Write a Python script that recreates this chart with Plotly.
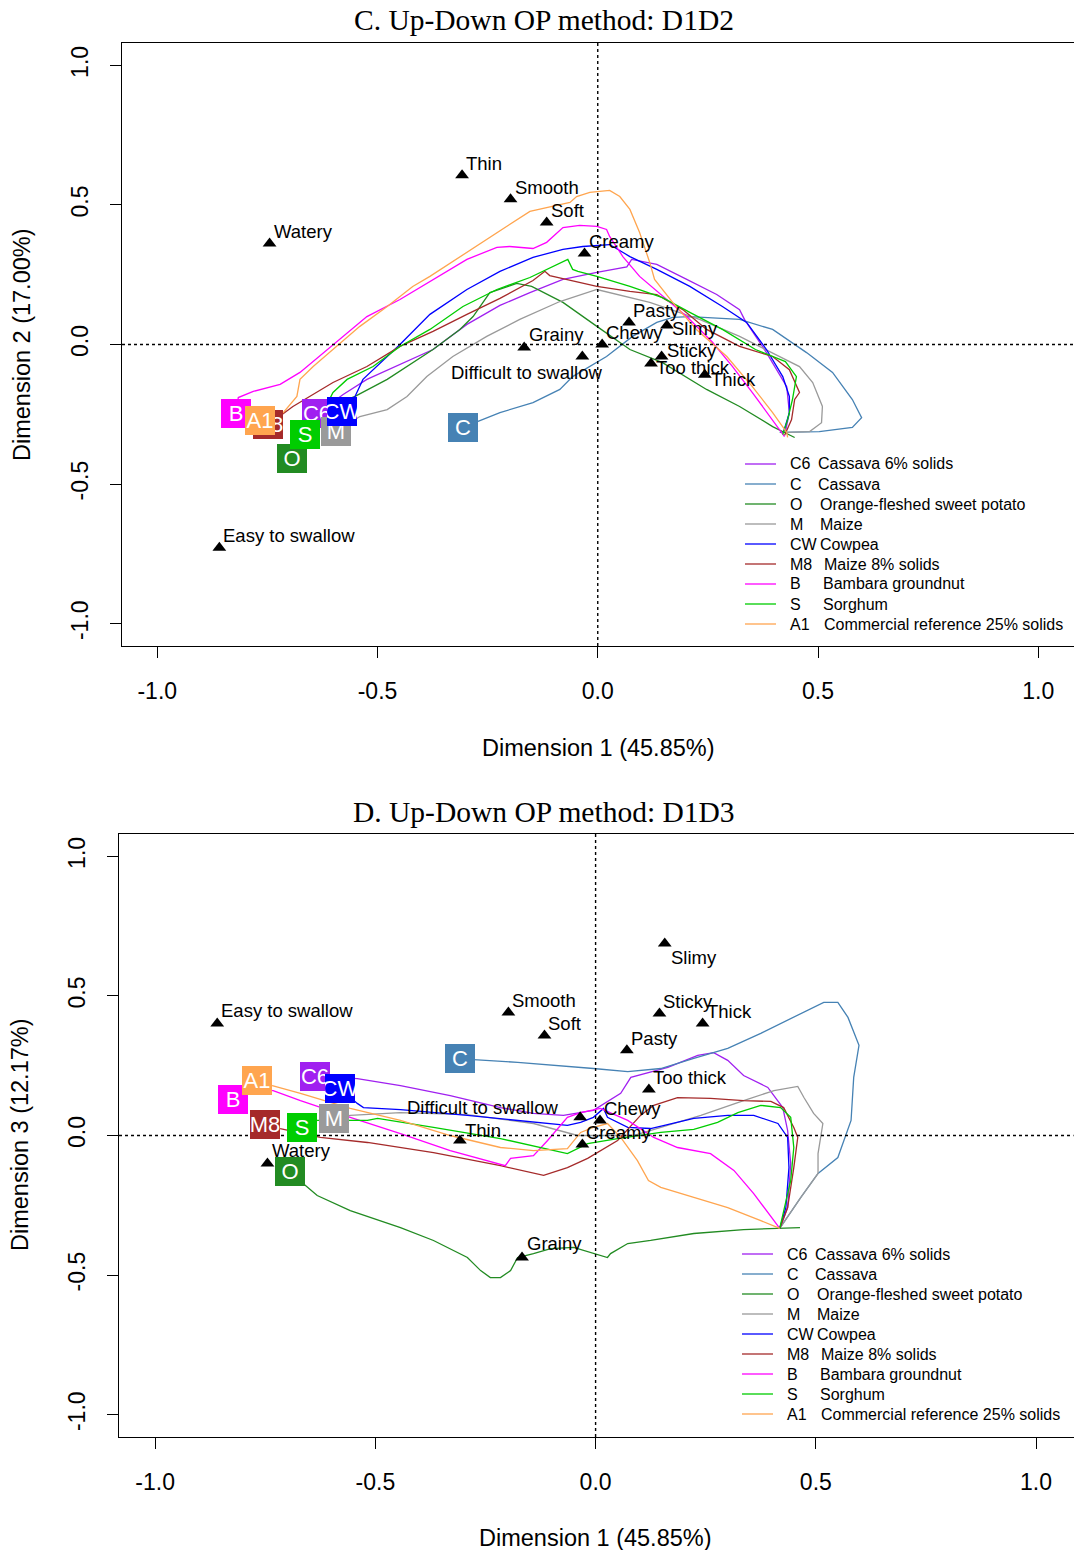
import plotly.graph_objects as go

# ---------------------------------------------------------------------------
# Sensory attributes (supplementary points) on dimensions 1, 2 and 3
# ---------------------------------------------------------------------------
attributes = ["Thin", "Smooth", "Soft", "Watery", "Creamy", "Pasty", "Slimy", "Grainy",
              "Chewy", "Difficult to swallow", "Sticky", "Too thick", "Thick", "Easy to swallow"]
attr_dim1 = [-0.308, -0.198, -0.116, -0.745, -0.030, 0.071, 0.157, -0.167,
             0.010, -0.035, 0.145, 0.121, 0.243, -0.859]
attr_dim2 = [0.606, 0.520, 0.437, 0.362, 0.326, 0.079, 0.068, -0.011,
             0.000, -0.043, -0.043, -0.068, -0.108, -0.728]
attr_dim3 = [-0.018, 0.441, 0.358, -0.100, -0.032, 0.305, 0.688, -0.437,
             0.054, 0.065, 0.437, 0.165, 0.401, 0.401]

# ---------------------------------------------------------------------------
# Products
# ---------------------------------------------------------------------------
product_codes = ["C6", "C", "O", "M", "CW", "M8", "B", "S", "A1"]
product_names = ["Cassava 6% solids", "Cassava", "Orange-fleshed sweet potato", "Maize",
                 "Cowpea", "Maize 8% solids", "Bambara groundnut", "Sorghum",
                 "Commercial reference 25% solids"]
product_colors = ["#A020F0", "#4682B4", "#228B22", "#9A9A9A", "#0000FF",
                  "#A52A2A", "#FF00FF", "#00CD00", "#FFA54F"]

# ---------------------------------------------------------------------------
# Up-Down trajectories, (dim1, dim2)
# ---------------------------------------------------------------------------
traj12_C6 = [(-0.637, -0.247), (-0.578, -0.179), (-0.524, -0.125), (-0.449, -0.072), (-0.374, -0.018),
             (-0.297, 0.072), (-0.222, 0.140), (-0.154, 0.186), (-0.079, 0.233), (-0.002, 0.258),
             (0.066, 0.278), (0.077, 0.305), (0.134, 0.287), (0.202, 0.233), (0.270, 0.179),
             (0.322, 0.125), (0.333, 0.090), (0.383, -0.029), (0.429, -0.151), (0.435, -0.244),
             (0.426, -0.312)]
traj12_C = [(-0.306, -0.297), (-0.274, -0.276), (-0.222, -0.244), (-0.147, -0.208), (-0.086, -0.161),
            (-0.057, -0.115), (0.020, -0.043), (0.079, 0.029), (0.134, 0.079), (0.170, 0.097),
            (0.209, 0.100), (0.322, 0.090), (0.397, 0.054), (0.474, -0.029), (0.533, -0.100),
            (0.578, -0.197), (0.599, -0.262), (0.578, -0.297), (0.503, -0.312), (0.413, -0.315)]
traj12_O = [(-0.694, -0.409), (-0.642, -0.305), (-0.596, -0.215), (-0.551, -0.186), (-0.478, -0.125),
            (-0.374, -0.018), (-0.313, 0.054), (-0.283, 0.100), (-0.245, 0.186), (-0.200, 0.210),
            (-0.184, 0.219), (-0.150, 0.208), (-0.079, 0.151), (-0.002, 0.065), (0.073, -0.018),
            (0.147, -0.065), (0.247, -0.161), (0.322, -0.222), (0.397, -0.294), (0.447, -0.333)]
traj12_M = [(-0.594, -0.312), (-0.540, -0.258), (-0.478, -0.233), (-0.433, -0.186), (-0.388, -0.115),
            (-0.329, -0.043), (-0.252, 0.029), (-0.177, 0.090), (-0.086, 0.154), (-0.002, 0.197),
            (0.118, 0.151), (0.231, 0.090), (0.322, 0.029), (0.406, -0.036), (0.458, -0.079),
            (0.488, -0.136), (0.510, -0.222), (0.508, -0.280), (0.481, -0.312), (0.429, -0.315)]
traj12_CW = [(-0.580, -0.240), (-0.551, -0.186), (-0.533, -0.125), (-0.510, -0.090), (-0.449, 0.000),
             (-0.381, 0.108), (-0.297, 0.197), (-0.222, 0.262), (-0.147, 0.312), (-0.079, 0.341),
             (-0.034, 0.351), (0.027, 0.358), (0.073, 0.315), (0.134, 0.269), (0.209, 0.208),
             (0.283, 0.136), (0.338, 0.079), (0.383, -0.018), (0.420, -0.115), (0.435, -0.186),
             (0.435, -0.244), (0.422, -0.312)]
traj12_M8 = [(-0.748, -0.287), (-0.692, -0.222), (-0.601, -0.136), (-0.524, -0.079), (-0.449, -0.007),
             (-0.374, 0.047), (-0.297, 0.108), (-0.222, 0.165), (-0.147, 0.229), (-0.120, 0.262),
             (-0.109, 0.247), (-0.002, 0.208), (0.073, 0.190), (0.134, 0.179), (0.193, 0.125),
             (0.247, 0.054), (0.322, -0.007), (0.397, -0.043), (0.435, -0.090), (0.458, -0.172),
             (0.447, -0.197), (0.440, -0.269), (0.424, -0.326)]
traj12_B = [(-0.821, -0.247), (-0.816, -0.190), (-0.782, -0.168), (-0.721, -0.143), (-0.676, -0.100),
            (-0.601, 0.000), (-0.524, 0.100), (-0.449, 0.161), (-0.381, 0.226), (-0.297, 0.305),
            (-0.229, 0.348), (-0.200, 0.351), (-0.147, 0.344), (-0.116, 0.366), (-0.079, 0.419),
            (-0.041, 0.427), (-0.002, 0.423), (0.020, 0.412), (0.027, 0.387), (0.043, 0.348),
            (0.057, 0.315), (0.095, 0.244), (0.156, 0.161), (0.202, 0.100), (0.261, 0.007),
            (0.306, -0.079), (0.351, -0.172), (0.397, -0.269), (0.424, -0.330)]
traj12_S = [(-0.664, -0.323), (-0.624, -0.244), (-0.601, -0.172), (-0.569, -0.125), (-0.510, -0.079),
            (-0.449, -0.007), (-0.381, 0.054), (-0.306, 0.136), (-0.229, 0.197), (-0.154, 0.240),
            (-0.068, 0.305), (-0.057, 0.269), (-0.045, 0.262), (-0.002, 0.244), (0.073, 0.208),
            (0.147, 0.168), (0.209, 0.115), (0.283, 0.054), (0.358, -0.018), (0.426, -0.061),
            (0.451, -0.115), (0.442, -0.197), (0.431, -0.269), (0.420, -0.323)]
traj12_A1 = [(-0.766, -0.272), (-0.714, -0.244), (-0.683, -0.186), (-0.676, -0.125), (-0.646, -0.079),
             (-0.601, -0.018), (-0.540, 0.065), (-0.478, 0.136), (-0.420, 0.208), (-0.381, 0.244),
             (-0.297, 0.330), (-0.229, 0.401), (-0.154, 0.477), (-0.063, 0.509), (-0.048, 0.530),
             (-0.018, 0.545), (0.027, 0.552), (0.050, 0.530), (0.073, 0.484), (0.095, 0.401),
             (0.118, 0.294), (0.129, 0.233), (0.170, 0.151), (0.224, 0.054), (0.293, -0.043),
             (0.351, -0.151), (0.397, -0.244), (0.429, -0.315), (0.431, -0.333)]

# ---------------------------------------------------------------------------
# Up-Down trajectories, (dim1, dim3)
# ---------------------------------------------------------------------------
traj13_C6 = [(-0.636, 0.211), (-0.541, 0.204), (-0.443, 0.179), (-0.330, 0.143), (-0.216, 0.100),
             (-0.141, 0.079), (-0.073, 0.072), (-0.005, 0.090), (0.057, 0.151), (0.080, 0.208),
             (0.164, 0.244), (0.232, 0.287), (0.268, 0.297), (0.300, 0.269), (0.336, 0.215),
             (0.391, 0.172), (0.425, 0.100), (0.436, 0.018), (0.443, -0.100), (0.436, -0.258),
             (0.418, -0.333)]
traj13_C = [(-0.307, 0.276), (-0.277, 0.272), (-0.177, 0.262), (-0.080, 0.251), (-0.005, 0.240),
            (0.073, 0.229), (0.148, 0.240), (0.223, 0.276), (0.300, 0.312), (0.375, 0.366),
            (0.450, 0.423), (0.518, 0.477), (0.550, 0.477), (0.573, 0.423), (0.598, 0.323),
            (0.586, 0.208), (0.580, 0.054), (0.550, -0.079), (0.505, -0.136), (0.466, -0.222),
            (0.418, -0.333)]
traj13_O = [(-0.693, -0.129), (-0.664, -0.172), (-0.632, -0.215), (-0.557, -0.269), (-0.443, -0.330),
            (-0.368, -0.376), (-0.291, -0.437), (-0.261, -0.484), (-0.239, -0.509), (-0.216, -0.509),
            (-0.193, -0.484), (-0.177, -0.437), (-0.141, -0.423), (-0.102, -0.405), (-0.050, -0.401),
            (-0.005, -0.423), (0.027, -0.437), (0.034, -0.423), (0.073, -0.387), (0.125, -0.376),
            (0.223, -0.351), (0.336, -0.337), (0.414, -0.333), (0.464, -0.330)]
traj13_M = [(-0.595, 0.061), (-0.557, 0.072), (-0.443, 0.082), (-0.291, 0.075), (-0.141, 0.043),
            (-0.041, 0.000), (0.086, 0.000), (0.239, 0.072), (0.336, 0.125), (0.405, 0.161),
            (0.459, 0.176), (0.473, 0.136), (0.495, 0.079), (0.516, 0.043), (0.505, -0.065),
            (0.505, -0.136), (0.466, -0.222), (0.418, -0.333)]
traj13_CW = [(-0.580, 0.168), (-0.541, 0.115), (-0.527, 0.100), (-0.443, 0.093), (-0.291, 0.072),
             (-0.141, 0.047), (-0.064, 0.036), (-0.034, 0.047), (-0.005, 0.065), (0.018, 0.097),
             (0.027, 0.065), (0.073, 0.029), (0.125, 0.025), (0.223, 0.061), (0.300, 0.072),
             (0.359, 0.072), (0.414, 0.043), (0.436, -0.007), (0.439, -0.115), (0.432, -0.258),
             (0.418, -0.333)]
traj13_M8 = [(-0.750, 0.039), (-0.716, 0.025), (-0.625, -0.007), (-0.518, -0.025), (-0.368, -0.061),
             (-0.216, -0.108), (-0.118, -0.143), (-0.064, -0.115), (-0.018, -0.082), (0.050, -0.018),
             (0.102, 0.072), (0.132, 0.108), (0.186, 0.136), (0.261, 0.133), (0.336, 0.125),
             (0.398, 0.122), (0.427, 0.100), (0.450, 0.029), (0.459, -0.007), (0.450, -0.115),
             (0.436, -0.258), (0.418, -0.333)]
traj13_B = [(-0.823, 0.129), (-0.791, 0.168), (-0.732, 0.161), (-0.670, 0.125), (-0.557, 0.065),
            (-0.443, 0.007), (-0.330, -0.054), (-0.205, -0.108), (-0.193, -0.082), (-0.141, -0.072),
            (-0.109, -0.018), (-0.064, 0.065), (-0.034, 0.082), (0.011, 0.097), (0.073, 0.054),
            (0.132, -0.007), (0.186, -0.043), (0.261, -0.065), (0.314, -0.125), (0.359, -0.208),
            (0.405, -0.305), (0.418, -0.333)]
traj13_S = [(-0.666, 0.029), (-0.632, 0.054), (-0.518, 0.054), (-0.495, 0.061), (-0.368, 0.029),
            (-0.216, -0.011), (-0.064, -0.065), (-0.041, -0.047), (-0.018, -0.029), (0.050, -0.011),
            (0.148, 0.011), (0.223, 0.022), (0.277, 0.047), (0.323, 0.082), (0.375, 0.108),
            (0.420, 0.100), (0.443, 0.065), (0.450, -0.043), (0.443, -0.161), (0.418, -0.333)]
traj13_A1 = [(-0.768, 0.197), (-0.734, 0.179), (-0.670, 0.151), (-0.557, 0.097), (-0.443, 0.054),
             (-0.330, 0.000), (-0.216, -0.043), (-0.141, -0.054), (-0.064, -0.047), (-0.050, -0.018),
             (-0.034, 0.011), (-0.005, 0.029), (0.027, 0.043), (0.057, -0.007), (0.095, -0.090),
             (0.120, -0.161), (0.148, -0.186), (0.223, -0.222), (0.300, -0.258), (0.375, -0.305),
             (0.418, -0.333)]

tick_vals = [-1.0, -0.5, 0.0, 0.5, 1.0]
tick_text = ["-1.0", "-0.5", "0.0", "0.5", "1.0"]

# ---------------------------------------------------------------------------
# Layout helpers (page pixels -> paper fractions)
# ---------------------------------------------------------------------------
W, H = 1074, 1550
SANS = "Liberation Sans, Arial, sans-serif"
SERIF = "Liberation Serif, Times New Roman, serif"


def px_x(p):
    return p / W


def px_y(p):
    return 1 - p / H


panels = [
    dict(xa="x", ya="y", traj=[traj12_C6, traj12_C, traj12_O, traj12_M, traj12_CW,
                               traj12_M8, traj12_B, traj12_S, traj12_A1],
         attr_y=attr_dim2,
         legend_line=(745, 776), legend_code_x=790, legend_top=464),
    dict(xa="x2", ya="y2", traj=[traj13_C6, traj13_C, traj13_O, traj13_M, traj13_CW,
                                 traj13_M8, traj13_B, traj13_S, traj13_A1],
         attr_y=attr_dim3,
         legend_line=(742, 773), legend_code_x=787, legend_top=1254),
]

# where each product name starts, relative to its code, in the legend
legend_name_offset = [28, 28, 30, 30, 30, 34, 33, 33, 34]
LEGEND_ROW = 20

# label placement: (xanchor, x offset px, y offset px)
label_pos_top = {"Slimy": ("left", 5, -3), "Sticky": ("left", 5, 6), "Too thick": ("left", 5, -4),
                 "Thick": ("left", 6, -5), "Grainy": ("left", 5, 13),
                 "Difficult to swallow": ("right", 20, -16)}
label_pos_bottom = {"Slimy": ("left", 6, -14), "Difficult to swallow": ("right", -22, 10),
                    "Watery": ("left", 5, 13), "Grainy": ("left", 5, 14), "Thin": ("left", 5, 10),
                    "Easy to swallow": ("left", 4, 13)}
label_pos = [label_pos_top, label_pos_bottom]

fig = go.Figure()
annotations = []
shapes = []

for pi, panel in enumerate(panels):
    # trajectories
    for code, name, color, pts in zip(product_codes, product_names, product_colors, panel["traj"]):
        fig.add_trace(go.Scatter(
            x=[p[0] for p in pts], y=[p[1] for p in pts], mode="lines",
            line=dict(color=color, width=1.3), name=code + " " + name,
            xaxis=panel["xa"], yaxis=panel["ya"], showlegend=False,
            hoverinfo="skip"))
    # attribute triangles
    fig.add_trace(go.Scatter(
        x=attr_dim1, y=panel["attr_y"], mode="markers",
        marker=dict(symbol="triangle-up", size=12, color="black", line=dict(width=0)),
        xaxis=panel["xa"], yaxis=panel["ya"], showlegend=False, hoverinfo="skip"))

    # product start squares
    for code, color, pts in zip(product_codes, product_colors, panel["traj"]):
        annotations.append(dict(
            x=pts[0][0], y=pts[0][1], xref=panel["xa"], yref=panel["ya"], text=code,
            showarrow=False, bgcolor=color, width=30, height=29, borderpad=0, borderwidth=0,
            font=dict(family=SANS, size=22, color="white"), xanchor="center", yanchor="middle"))

    # attribute labels
    for name, ax, ay in zip(attributes, attr_dim1, panel["attr_y"]):
        anchor, dx, dy = label_pos[pi].get(name, ("left", 4, 12))
        shift = dx - 2 if anchor == "left" else dx + 2
        annotations.append(dict(
            x=ax, y=ay, xref=panel["xa"], yref=panel["ya"], text=name, showarrow=False,
            xanchor=anchor, yanchor="middle", xshift=shift, yshift=dy,
            font=dict(family=SANS, size=18.5, color="black")))

    # dotted reference lines through the origin
    shapes.append(dict(type="line", xref=panel["xa"], yref=panel["ya"] + " domain",
                       x0=0, x1=0, y0=0, y1=1,
                       line=dict(color="black", width=1.4, dash="dot")))
    shapes.append(dict(type="line", xref=panel["xa"] + " domain", yref=panel["ya"],
                       x0=0, x1=1, y0=0, y1=0,
                       line=dict(color="black", width=1.4, dash="dot")))

    # legend block inside the lower-right corner
    lx0, lx1 = panel["legend_line"]
    for i, (code, name, color) in enumerate(zip(product_codes, product_names, product_colors)):
        ry = panel["legend_top"] + i * LEGEND_ROW
        shapes.append(dict(type="line", xref="paper", yref="paper",
                           x0=px_x(lx0), x1=px_x(lx1), y0=px_y(ry), y1=px_y(ry),
                           line=dict(color=color, width=1.3)))
        cx = panel["legend_code_x"]
        annotations.append(dict(text=code, x=px_x(cx - 2), y=px_y(ry), xref="paper", yref="paper",
                                showarrow=False, xanchor="left", yanchor="middle",
                                font=dict(family=SANS, size=16, color="black")))
        annotations.append(dict(text=name, x=px_x(cx + legend_name_offset[i] - 2), y=px_y(ry),
                                xref="paper", yref="paper", showarrow=False,
                                xanchor="left", yanchor="middle",
                                font=dict(family=SANS, size=16, color="black")))

# titles and axis titles
for txt, xp, yp in [("C. Up-Down OP method: D1D2", 543.5, 20), ("D. Up-Down OP method: D1D3", 543.5, 812)]:
    annotations.append(dict(text=txt, x=px_x(xp), y=px_y(yp), xref="paper", yref="paper",
                            showarrow=False, xanchor="center", yanchor="middle",
                            font=dict(family=SERIF, size=29.5, color="black")))
for txt, xp, yp in [("Dimension 1 (45.85%)", 598, 748), ("Dimension 1 (45.85%)", 595, 1538)]:
    annotations.append(dict(text=txt, x=px_x(xp), y=px_y(yp), xref="paper", yref="paper",
                            showarrow=False, xanchor="center", yanchor="middle",
                            font=dict(family=SANS, size=23.5, color="black")))
for txt, xp, yp in [("Dimension 2 (17.00%)", 22, 345), ("Dimension 3 (12.17%)", 20, 1135)]:
    annotations.append(dict(text=txt, x=px_x(xp), y=px_y(yp), xref="paper", yref="paper",
                            showarrow=False, xanchor="center", yanchor="middle", textangle=-90,
                            font=dict(family=SANS, size=23.5, color="black")))

axis_common = dict(
    tickmode="array", tickvals=tick_vals, ticktext=tick_text, ticks="outside", ticklen=11,
    tickwidth=1, tickcolor="black", showgrid=False, zeroline=False, showline=True,
    linecolor="black", linewidth=1, mirror=True,
    tickfont=dict(family=SANS, size=23, color="black"))

fig.update_layout(
    width=W, height=H, autosize=False,
    margin=dict(l=0, r=0, t=0, b=0),
    paper_bgcolor="white", plot_bgcolor="white",
    showlegend=False,
    xaxis=dict(domain=[px_x(122), px_x(1073.5)], range=[-1.08, 1.08], anchor="y",
               ticklabelstandoff=13, **axis_common),
    yaxis=dict(domain=[px_y(646), px_y(43)], range=[-1.08, 1.08], anchor="x",
               tickangle=-90, ticklabelstandoff=13, **axis_common),
    xaxis2=dict(domain=[px_x(119), px_x(1073.5)], range=[-1.082, 1.085], anchor="y2",
                ticklabelstandoff=13, **axis_common),
    yaxis2=dict(domain=[px_y(1437), px_y(834)], range=[-1.08, 1.08], anchor="x2",
                tickangle=-90, ticklabelstandoff=13, **axis_common),
    annotations=annotations,
    shapes=shapes,
)

fig.write_html("out.html")
